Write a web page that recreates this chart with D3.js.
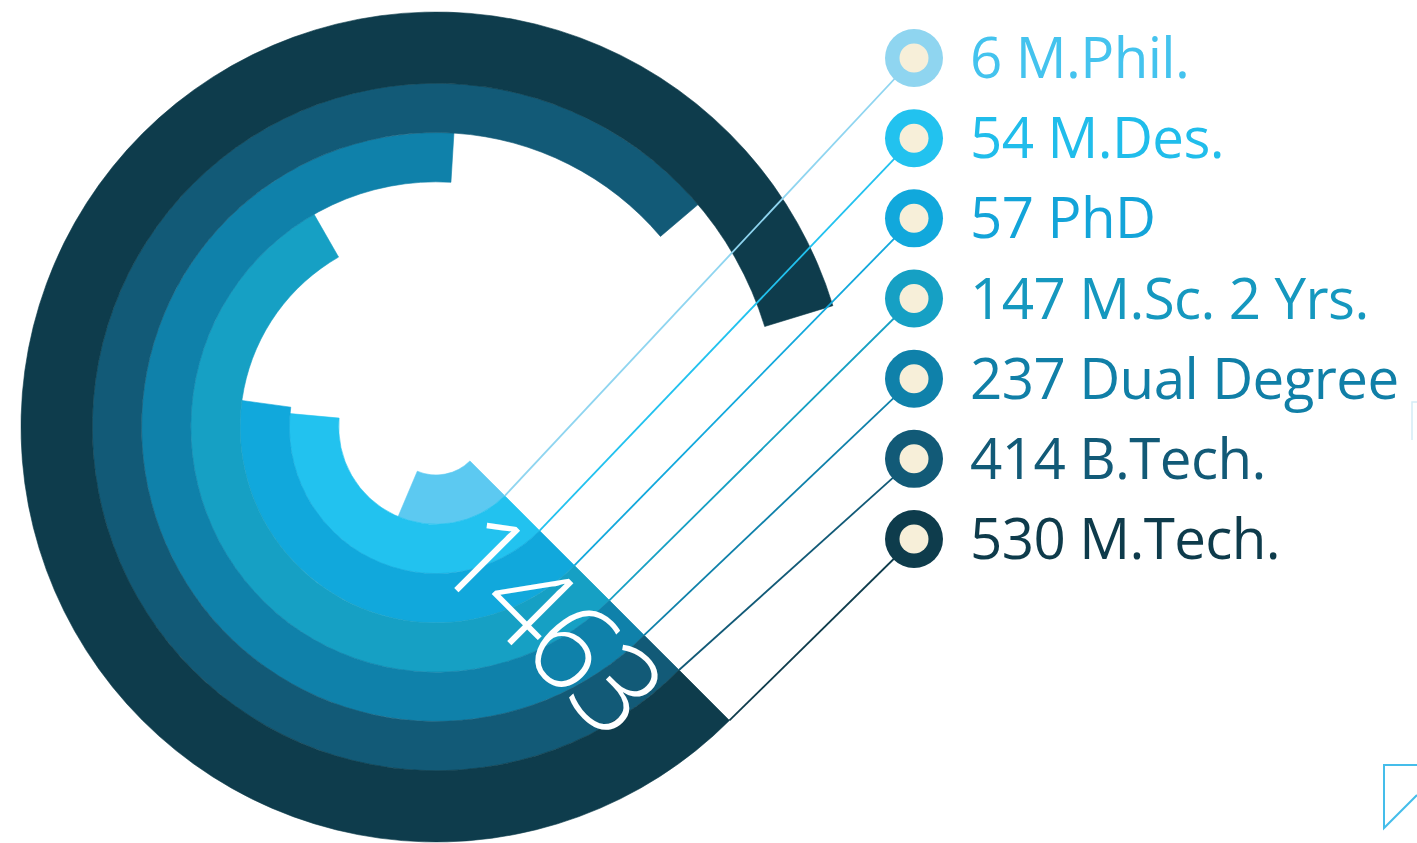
<!DOCTYPE html>
<html lang="en">
<head>
<meta charset="utf-8">
<title>Students by programme</title>
<script src="https://cdn.jsdelivr.net/npm/d3@7"></script>
<style>
    body { margin: 0; background-color: #ffffff; overflow: hidden; }
    text { font-family: "Open Sans", sans-serif; }
</style>
</head>
<body>
<script>
// data, inner ring first
var programmes = ["M.Phil.", "M.Des.", "PhD", "M.Sc. 2 Yrs.", "Dual Degree", "B.Tech.", "M.Tech."];
var students = [6, 54, 57, 147, 237, 414, 530];
var totalLabel = ["1463"];

var arcColors = ["#5cc9f1", "#22c2ef", "#11a8dc", "#16a0c4", "#0f81aa", "#125a77", "#0e3c4c"];
var keyColors = ["#8fd5f0", "#22c2ef", "#11a8dc", "#16a0c4", "#0f81aa", "#125a77", "#0e3c4c"];
var textColors = ["#44c3ee", "#20bdeb", "#13a4d9", "#1598bf", "#107fa7", "#125a77", "#0e3b4b"];

var w = 1417, h = 843;
var cx = 436, cy = 427;
var startAngle = Math.PI * 3 / 4;

var svg = d3.select('body').append('svg').attr('width', w).attr('height', h);

// sweep of each ring (the original is not linear, a pow scale gets close)
var angle = d3.scalePow().exponent(0.33)
    .domain([0, d3.max(students)])
    .range([0, 298 * Math.PI / 180]);
var radius = d3.scaleLinear().domain([0, programmes.length]).range([48, 393]);
var keyY = d3.scaleLinear().domain([0, programmes.length - 1]).range([58, 539]);

function innerR(i) { return radius(i); }
function outerR(i) {
    // outer ring is drawn thicker
    return i == programmes.length - 1 ? radius(i + 1) + 22 : radius(i + 1);
}

var arc = d3.arc()
    .innerRadius(function(d, i) { return innerR(i); })
    .outerRadius(function(d, i) { return outerR(i); })
    .startAngle(startAngle)
    .endAngle(function(d) { return startAngle + angle(d); });

var chart = svg.append('g').attr('transform', 'translate(' + cx + ',' + cy + ')');

// outermost first so the small stroke that hides seams sits under the next ring
chart.selectAll('path.ring')
    .data(students)
    .enter()
    .append('path')
    .attr('class', 'ring')
    .attr('d', function(d, i) { return arc(d, i); })
    .attr('fill', function(d, i) { return arcColors[i]; })
    .attr('stroke', function(d, i) { return arcColors[i]; })
    .attr('stroke-width', 0.6)
    .attr('stroke-linejoin', 'miter');

// total, written along the start edge
chart.append('g')
    .attr('transform', 'rotate(45)')
    .selectAll('text')
    .data(totalLabel)
    .enter()
    .append('text')
    .attr('x', 92)
    .attr('y', 101)
    .attr('fill', '#ffffff')
    .attr('font-size', 122)
    .attr('font-weight', 300)
    .attr('letter-spacing', -7)
    .text(function(d) { return d; });

// leader lines from ring corner to key circle
var keyX = 914;
svg.selectAll('line.lead')
    .data(students)
    .enter()
    .append('line')
    .attr('class', 'lead')
    .attr('x1', function(d, i) { return cx + outerR(i) * Math.sin(startAngle); })
    .attr('y1', function(d, i) { return cy - outerR(i) * Math.cos(startAngle); })
    .attr('x2', keyX)
    .attr('y2', function(d, i) { return keyY(i); })
    .attr('stroke', function(d, i) { return keyColors[i]; })
    .attr('stroke-width', 1.8);

var keys = svg.selectAll('g.key')
    .data(students)
    .enter()
    .append('g')
    .attr('class', 'key')
    .attr('transform', function(d, i) { return 'translate(' + keyX + ',' + keyY(i) + ')'; });

keys.append('circle').attr('r', 29).attr('fill', function(d, i) { return keyColors[i]; });
keys.append('circle').attr('r', 14.5).attr('fill', '#f7efd9');
keys.append('text')
    .attr('x', 56)
    .attr('y', 20)
    .attr('font-size', 56.5)
    .attr('letter-spacing', -0.6)
    .attr('fill', function(d, i) { return textColors[i]; })
    .text(function(d, i) { return d + ' ' + programmes[i]; });

// bits of the next panel cut off at the right edge
svg.append('path')
    .attr('d', 'M1417,765 L1384,765 L1384,828 L1417,795')
    .attr('fill', 'none')
    .attr('stroke', '#45bdea')
    .attr('stroke-width', 2);
svg.append('path')
    .attr('d', 'M1417,402 L1412,402 L1412,440')
    .attr('fill', 'none')
    .attr('stroke', '#d4ecf6')
    .attr('stroke-width', 1.5);
</script>
</body>
</html>
